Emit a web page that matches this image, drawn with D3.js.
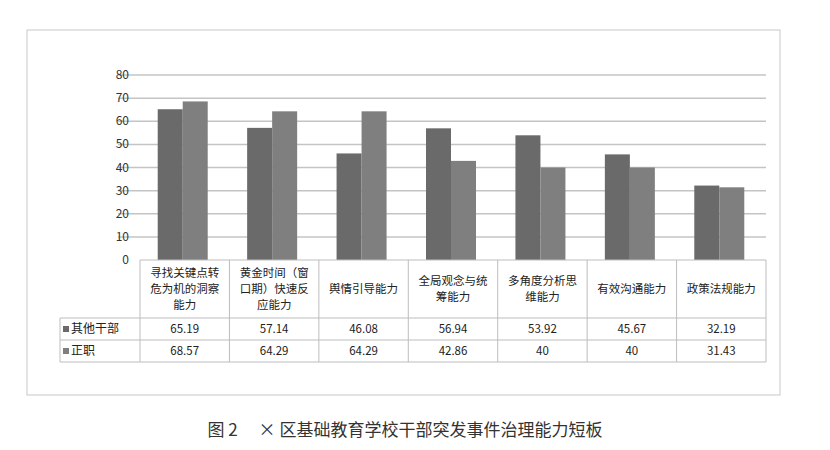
<!DOCTYPE html>
<html><head><meta charset="utf-8">
<script src="https://cdn.jsdelivr.net/npm/d3@7"></script>
<style>body{margin:0;background:#fff}text{font-family:"Noto Sans CJK SC",sans-serif}</style>
</head><body><svg id="c" width="830" height="450"></svg>
<script>
const categories=["寻找关键点转危为机的洞察能力","黄金时间（窗口期）快速反应能力","舆情引导能力","全局观念与统筹能力","多角度分析思维能力","有效沟通能力","政策法规能力"];
const catLines=[["寻找关键点转","危为机的洞察","能力"],["黄金时间（窗","口期）快速反","应能力"],["舆情引导能力"],["全局观念与统","筹能力"],["多角度分析思","维能力"],["有效沟通能力"],["政策法规能力"]];
const seriesNames=["其他干部","正职"];
const other=[65.19,57.14,46.08,56.94,53.92,45.67,32.19];
const chief=[68.57,64.29,64.29,42.86,40,40,31.43];
const otherLabels=["65.19","57.14","46.08","56.94","53.92","45.67","32.19"];
const chiefLabels=["68.57","64.29","64.29","42.86","40","40","31.43"];
const yTicks=[0,10,20,30,40,50,60,70,80];
const colors=["#6a6a6a","#7f7f7f"];
const svg=d3.select("#c");
svg.append("rect").attr("x",27).attr("y",30).attr("width",753).attr("height",365).attr("fill","#fff").attr("stroke","#c8c8c8");
const x=d3.scaleBand().domain(categories).range([140,766]);
const y=d3.scaleLinear().domain([0,80]).range([260,75]);
const g=svg.append("g");
yTicks.forEach(t=>{
 if(t>0) g.append("line").attr("x1",118).attr("x2",766).attr("y1",y(t)).attr("y2",y(t)).attr("stroke","#c4c4c4").attr("stroke-width",1.5);
 g.append("text").attr("x",129).attr("y",y(t)+4).attr("text-anchor","end").attr("font-size",12).attr("fill","#333").text(t);
});
const bw=25;
[other,chief].forEach((vals,s)=>{
 g.selectAll(".b"+s).data(vals).join("rect")
  .attr("x",(d,i)=>x(categories[i])+x.bandwidth()/2-bw-2+s*bw)
  .attr("y",d=>y(d)).attr("width",bw).attr("height",d=>y(0)-y(d)).attr("fill",colors[s]);
});
const tg=svg.append("g").attr("stroke","#bdbdbd").attr("fill","none");
tg.append("line").attr("x1",140).attr("x2",766).attr("y1",260).attr("y2",260);
[318,340,362].forEach(r=>tg.append("line").attr("x1",60).attr("x2",766).attr("y1",r).attr("y2",r));
tg.append("line").attr("x1",60).attr("x2",60).attr("y1",318).attr("y2",362);
categories.forEach(c=>tg.append("line").attr("x1",x(c)).attr("x2",x(c)).attr("y1",260).attr("y2",362));
tg.append("line").attr("x1",766).attr("x2",766).attr("y1",260).attr("y2",362);
categories.forEach((c,i)=>{
 const L=catLines[i], n=L.length, cy=289-(n-1)*8;
 L.forEach((l,j)=>svg.append("text").attr("x",x(c)+x.bandwidth()/2).attr("y",cy+j*16+4).attr("text-anchor","middle").attr("font-size",11.5).attr("fill","#222").text(l));
 [otherLabels,chiefLabels].forEach((lab,s)=>svg.append("text").attr("x",x(c)+x.bandwidth()/2).attr("y",(s?351:329)+4).attr("text-anchor","middle").attr("font-size",11.5).attr("fill","#222").text(lab[i]));
});
seriesNames.forEach((n,s)=>{
 const yy=s?351:329;
 svg.append("rect").attr("x",63).attr("y",yy-3).attr("width",6).attr("height",6).attr("fill",colors[s]);
 svg.append("text").attr("x",71).attr("y",yy+4).attr("font-size",12).attr("fill","#222").text(n);
});
svg.append("text").attr("x",405).attr("y",436).attr("text-anchor","middle").attr("font-size",17).attr("fill","#333").attr("xml:space","preserve").text("图 2　 × 区基础教育学校干部突发事件治理能力短板");
</script></body></html>
